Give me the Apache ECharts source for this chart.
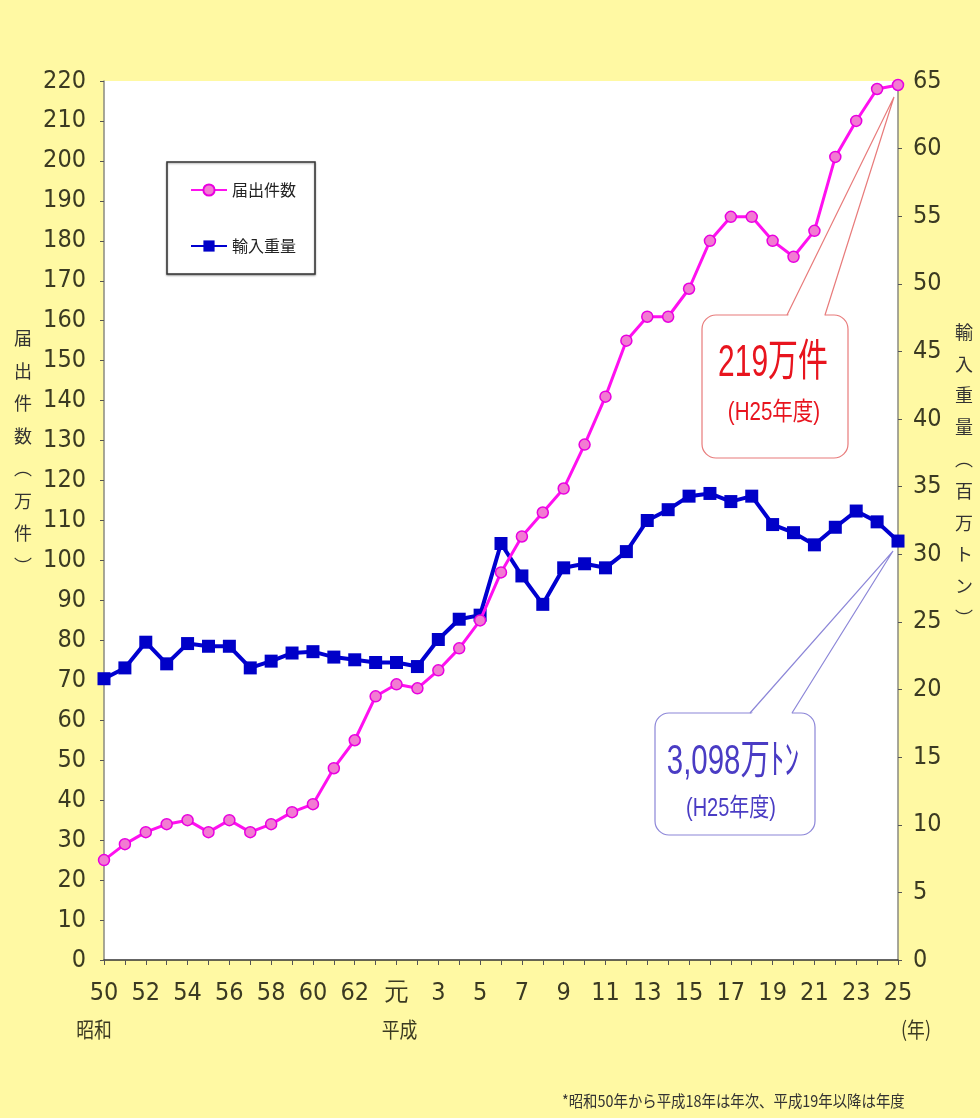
<!DOCTYPE html>
<html>
<head>
<meta charset="utf-8">
<script src="https://cdn.jsdelivr.net/npm/echarts@6/dist/echarts.min.js"></script>
<style>
  html, body { margin: 0; padding: 0; background: #FFF9A3; }
  #chart { width: 980px; height: 1118px; }
</style>
</head>
<body>
<div id="chart"></div>
<script>
// Fiscal years: Showa 50-63, then Heisei 1 (元) - 25
const categories = ['50','51','52','53','54','55','56','57','58','59','60','61','62','63',
  '元','2','3','4','5','6','7','8','9','10','11','12','13','14','15','16','17','18','19','20','21','22','23','24','25'];

// 届出件数 (万件)
const filings = [25, 29, 32, 34, 35, 32, 35, 32, 34, 37, 39, 48, 55, 66,
  69, 68, 72.5, 78, 85, 97, 106, 112, 118, 129, 141, 155, 161, 161, 168, 180, 186, 186, 180, 176, 182.5, 201, 210, 218, 219];

// 輸入重量 (百万トン)
const imports = [20.8, 21.6, 23.5, 21.9, 23.4, 23.2, 23.2, 21.6, 22.1, 22.7, 22.8, 22.4, 22.2, 22.0,
  22.0, 21.7, 23.7, 25.2, 25.5, 30.8, 28.4, 26.3, 29.0, 29.3, 29.0, 30.2, 32.5, 33.3, 34.3, 34.5, 33.9, 34.3, 32.2, 31.6, 30.7, 32.0, 33.2, 32.4, 30.98];

const seriesNames = ['届出件数', '輸入重量'];
const leftTitle = ['届', '出', '件', '数', '︵', '万', '件', '︶'];
const rightTitle = ['輸', '入', '重', '量', '︵', '百', '万', 'ト', 'ン', '︶'];
const eraLabels = [
  { cat: '50', text: '昭和', dx: -10 },
  { cat: '元', text: '平成', dx: 3 },
  { cat: '25', text: '(年)', dx: 18 }
];
const filingsNote = ['219万件', '(H25年度)'];
const importsNote = ['3,098万ﾄﾝ', '(H25年度)'];
const footnote = '*昭和50年から平成18年は年次、平成19年以降は年度';

const NARROW = "'Liberation Sans Narrow', 'Arial Narrow', 'DejaVu Sans Condensed', sans-serif";
const SANS = "'Liberation Sans', 'Noto Sans CJK JP', sans-serif";
const CJK = "'Noto Sans CJK JP', sans-serif";
const AXIS_TEXT = '#3b3a22';

const chart = echarts.init(document.getElementById('chart'), null, { renderer: 'canvas' });

chart.setOption({
  animation: false,
  backgroundColor: '#FFF9A3',
  grid: {
    left: 104, right: 82, top: 81, bottom: 158,
    show: true, backgroundColor: '#ffffff', borderWidth: 0
  },
  legend: {
    data: seriesNames,
    orient: 'vertical',
    left: 167, top: 162,
    backgroundColor: '#ffffff',
    borderColor: '#333333', borderWidth: 1.5,
    shadowColor: 'rgba(0,0,0,0.35)', shadowBlur: 2, shadowOffsetY: 1,
    padding: [20, 19, 20, 23],
    itemGap: 40, itemWidth: 36, itemHeight: 14,
    textStyle: { fontSize: 16, fontFamily: CJK, color: '#222' }
  },
  xAxis: {
    type: 'category',
    data: categories,
    boundaryGap: false,
    axisLine: { lineStyle: { color: '#333', width: 1.5 } },
    axisTick: { show: true, interval: 0, length: 5, lineStyle: { color: '#555' } },
    axisLabel: { interval: 1, fontSize: 25, fontFamily: NARROW, color: AXIS_TEXT, margin: 21 },
    splitLine: { show: false }
  },
  yAxis: [
    {
      type: 'value', position: 'left', min: 0, max: 220, interval: 10,
      axisLine: { show: true, lineStyle: { color: '#8a8a80', width: 1.5 } },
      axisTick: { show: true, length: 4, lineStyle: { color: '#555' } },
      axisLabel: { fontSize: 25, fontFamily: NARROW, color: AXIS_TEXT, margin: 18 },
      splitLine: { show: false }
    },
    {
      type: 'value', position: 'right', min: 0, max: 65, interval: 5,
      axisLine: { show: true, lineStyle: { color: '#8a8a80', width: 1.5 } },
      axisTick: { show: true, length: 4, lineStyle: { color: '#555' } },
      axisLabel: { fontSize: 25, fontFamily: NARROW, color: AXIS_TEXT, margin: 15 },
      splitLine: { show: false }
    }
  ],
  series: [
    {
      name: seriesNames[1], type: 'line', yAxisIndex: 1, data: imports,
      symbol: 'rect', symbolSize: 13, showAllSymbol: true,
      lineStyle: { color: '#0000D0', width: 4 },
      itemStyle: { color: '#0000C8' },
      z: 2
    },
    {
      name: seriesNames[0], type: 'line', yAxisIndex: 0, data: filings,
      symbol: 'circle', symbolSize: 11, showAllSymbol: true,
      lineStyle: { color: '#FF10F0', width: 3 },
      itemStyle: { color: '#F27BD2', borderColor: '#E800E0', borderWidth: 1.5 },
      z: 3
    }
  ]
});

// Callout: rounded box with a wedge pointing to a data point
function callout(box, baseX1, baseX2, tip, stroke, lines) {
  const els = [];
  els.push({
    type: 'rect', shape: { x: box.x, y: box.y, width: box.w, height: box.h, r: 14 },
    style: { fill: '#ffffff', stroke: stroke, lineWidth: 1.2 }, z: 100
  });
  els.push({
    type: 'polygon', shape: { points: [[baseX1 + 0.8, box.y + 1.5], [tip[0], tip[1]], [baseX2 - 0.8, box.y + 1.5]] },
    style: { fill: '#ffffff' }, z: 101
  });
  els.push({
    type: 'polyline', shape: { points: [[baseX1, box.y], [tip[0], tip[1]], [baseX2, box.y]] },
    style: { fill: null, stroke: stroke, lineWidth: 1.2 }, z: 102
  });
  lines.forEach(function (l) {
    els.push({
      type: 'text', x: l.x, y: l.y, scaleX: l.sx, z: 103,
      style: { text: l.text, fontSize: l.size, fontFamily: SANS, fill: l.color, align: 'center', verticalAlign: 'middle' }
    });
  });
  return els;
}

const last = categories.length - 1;
const pFil = chart.convertToPixel({ seriesIndex: 1 }, [last, filings[last]]);
const pImp = chart.convertToPixel({ seriesIndex: 0 }, [last, imports[last]]);

const graphics = [];

// vertical axis titles
graphics.push({
  type: 'text', x: 23, y: 452,
  style: { text: leftTitle.join('\n'), fontSize: 18, lineHeight: 32.5, fontFamily: CJK, fill: '#333', align: 'center', verticalAlign: 'middle' }
});
graphics.push({
  type: 'text', x: 964, y: 475,
  style: { text: rightTitle.join('\n'), fontSize: 18, lineHeight: 31.8, fontFamily: CJK, fill: '#333', align: 'center', verticalAlign: 'middle' }
});

// era labels under the category axis
eraLabels.forEach(function (e) {
  const px = chart.convertToPixel({ xAxisIndex: 0 }, e.cat);
  graphics.push({
    type: 'text', x: px + e.dx, y: 1029, scaleX: 0.85,
    style: { text: e.text, fontSize: 21, fontFamily: CJK, fill: AXIS_TEXT, align: 'center', verticalAlign: 'middle' }
  });
});

// callouts for the latest year
callout({ x: 702, y: 315, w: 146, h: 143 }, 787, 825, [pFil[0] - 4, pFil[1] + 12], '#E87B7B', [
  { text: filingsNote[0], x: 773, y: 364, size: 44, sx: 0.68, color: '#E8141E' },
  { text: filingsNote[1], x: 774, y: 413, size: 25, sx: 0.82, color: '#E8141E' }
]).forEach(function (g) { graphics.push(g); });

callout({ x: 655, y: 713, w: 160, h: 122 }, 750, 792, [pImp[0] - 5, pImp[1] + 10], '#8C86D8', [
  { text: importsNote[0], x: 733, y: 762, size: 42, sx: 0.7, color: '#4A3CC4' },
  { text: importsNote[1], x: 731, y: 809, size: 25, sx: 0.8, color: '#4A3CC4' }
]).forEach(function (g) { graphics.push(g); });

// footnote
graphics.push({
  type: 'text', x: 562, y: 1101, scaleX: 0.9,
  style: { text: footnote, fontSize: 16, fontFamily: CJK, fill: '#333', align: 'left', verticalAlign: 'middle' }
});

chart.setOption({ graphic: graphics });
</script>
</body>
</html>
